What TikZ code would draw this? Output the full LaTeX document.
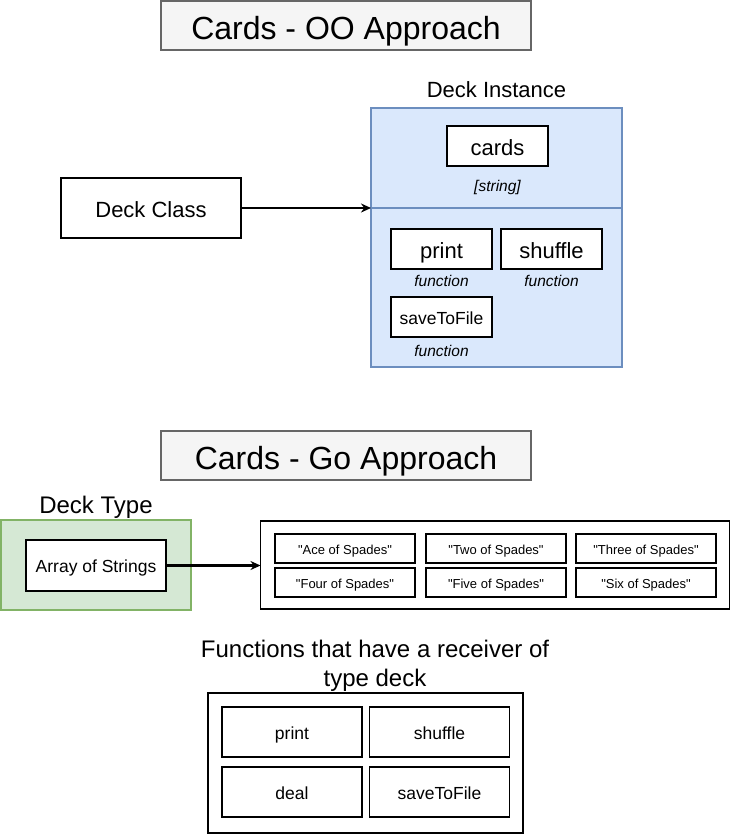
\documentclass[tikz,border=0pt]{standalone}
\usepackage{fontspec}
\setmainfont{Liberation Sans}[Ligatures=TeXOff]
\usepackage{tikz}
\usetikzlibrary{arrows.meta}

\definecolor{titlefill}{HTML}{F5F5F5}
\definecolor{titleline}{HTML}{666666}
\definecolor{bluefill}{HTML}{DAE8FC}
\definecolor{blueline}{HTML}{6C8EBF}
\definecolor{greenfill}{HTML}{D5E8D4}
\definecolor{greenline}{HTML}{82B366}

\newcommand{\fs}[1]{\fontsize{#1}{#1}\selectfont}

\begin{document}
\begin{tikzpicture}[x=1pt,y=-1pt,
  fsz/.style={font=\fs{#1},text height={0.9*#1pt},text depth={0.05*#1pt}}]
\tikzstyle{box}=[draw,line width=1.3pt,fill=white,inner sep=0pt,outer sep=0pt];
\tikzstyle{titlebox}=[box,fill=titlefill,draw=titleline,minimum width=370pt,minimum height=49pt,fsz=32];
\tikzstyle{label}=[inner sep=0pt];
\tikzstyle{conn}=[line width=2.4pt,-{Stealth[length=10pt,width=9pt]}];
\useasboundingbox (0,0) rectangle (731,835);

% OO approach
\node[titlebox] (title1) at (346,25.5) {Cards - OO Approach};
\node[box,minimum width=180pt,minimum height=60pt,fsz=22] (cls) at (151,208) {Deck Class};
\node[box,fill=bluefill,draw=blueline,minimum width=251pt,minimum height=259pt] (inst) at (496.5,237.5) {};
\node[label,fsz=22] (instlbl) at (496.5,88) {Deck Instance};
\draw[blueline,line width=1.3pt] (inst.west |- cls.east) -- (inst.east |- cls.east);
\node[box,minimum width=101pt,minimum height=40pt,fsz=22] (cards) at (497.5,146) {cards};
\node[label,fsz=15.5,font=\fs{15.5}\itshape] (cardstype) at (497.5,185) {[string]};
\node[box,minimum width=101pt,minimum height=40pt,fsz=22] (print) at (441.5,249) {print};
\node[box,minimum width=101pt,minimum height=40pt,fsz=22] (shuffle) at (551.5,249) {shuffle};
\node[box,minimum width=101pt,minimum height=40pt,fsz=17.5] (save) at (441.5,317) {saveToFile};
\node[label,fsz=15.5,font=\fs{15.5}\itshape] (printtype) at (441.5,280) {function};
\node[label,fsz=15.5,font=\fs{15.5}\itshape] (shuffletype) at (551.5,280) {function};
\node[label,fsz=15.5,font=\fs{15.5}\itshape] (savetype) at (441.5,350) {function};
\draw[conn] (cls.east) -- (inst.west |- cls.east);

% Go approach
\node[titlebox] (title2) at (346,455.5) {Cards - Go Approach};
\node[label,fsz=24] (typelbl) at (96,503.5) {Deck Type};
\node[box,fill=greenfill,draw=greenline,minimum width=190pt,minimum height=90pt] (type) at (96,565) {};
\node[box,minimum width=140pt,minimum height=51pt,fsz=17.5] (arr) at (96,565.5) {Array of Strings};
\node[box,minimum width=469pt,minimum height=88pt] (list) at (495,565) {};
\tikzstyle{card}=[box,minimum width=140pt,minimum height=29pt,fsz=13];
\node[card] (c1) at (345,548.5) {"Ace of Spades"};
\node[card] (c2) at (496,548.5) {"Two of Spades"};
\node[card] (c3) at (646,548.5) {"Three of Spades"};
\node[card] (c4) at (345,582.5) {"Four of Spades"};
\node[card] (c5) at (496,582.5) {"Five of Spades"};
\node[card] (c6) at (646,582.5) {"Six of Spades"};
\draw[conn] (arr.east) -- (arr.east -| list.west);

% receiver functions
\node[label,font=\fs{24},align=center] (funclbl) at (375,665.5) {Functions that have a receiver of\\[5pt]type deck};
\node[box,minimum width=315pt,minimum height=140pt] (funcs) at (365.5,763) {};
\tikzstyle{func}=[box,minimum width=140pt,minimum height=50pt,fsz=17.5];
\node[func] (f1) at (292,732) {print};
\node[func] (f2) at (439.5,732) {shuffle};
\node[func] (f3) at (292,792) {deal};
\node[func] (f4) at (439.5,792) {saveToFile};
\end{tikzpicture}
\end{document}
